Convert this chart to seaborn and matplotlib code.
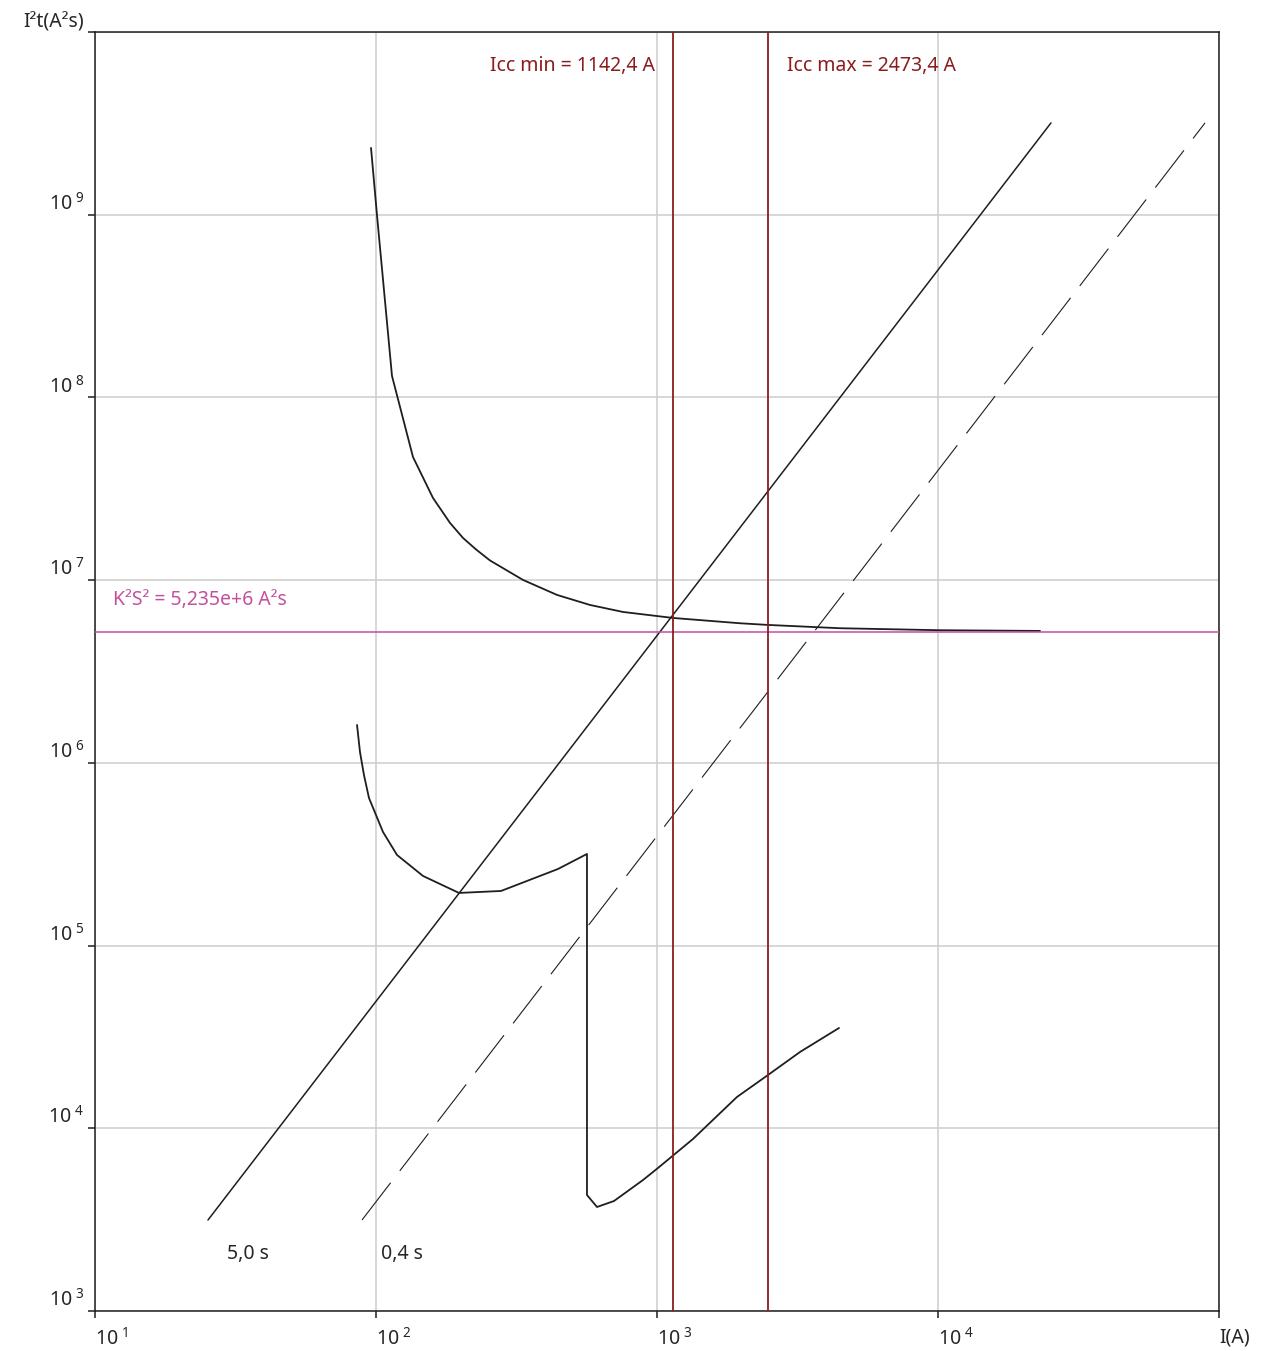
import matplotlib
matplotlib.use("Agg")
import matplotlib.pyplot as plt
import numpy as np
import pandas as pd
import seaborn as sns

# ---------------- data ----------------
# cable / device curve (upper)
upper_I = [96.0, 100.8, 114.0, 135.4, 159.5, 183.4, 204.0, 226.9, 254.4, 333.6,
           440.8, 577.4, 756.9, 1140, 1974, 2483, 4479, 10165, 23073]
upper_I2t = [2.32e9, 9.97e8, 1.311e8, 4.72e7, 2.818e7, 2.056e7, 1.702e7, 1.473e7,
             1.282e7, 1.0025e7, 8.30e6, 7.315e6, 6.697e6, 6.21e6, 5.808e6, 5.687e6,
             5.455e6, 5.320e6, 5.273e6]

# protective device let-through curve (lower)
lower_I = [85.6, 87.7, 90.6, 94.4, 105.9, 118.8, 147.0, 197.4, 278.6, 444.5,
           563.4, 563.4, 611.7, 703.2, 891.8, 1008, 1343, 1926, 2483, 3228, 4443]
lower_I2t = [1.612e6, 1.147e6, 8.585e5, 6.426e5, 4.185e5, 3.132e5, 2.404e5, 1.941e5,
             1.990e5, 2.626e5, 3.172e5, 4313, 3709, 4000, 5212, 6063, 8739, 14840,
             19570, 26160, 35390]

# I^2 t lines for 5,0 s (solid) and 0,4 s (dashed)
line5_I = [25.24, 25240]
line5_I2t = [3148, 3.18e9]
line04_I = [89.17, 89170]
line04_I2t = [3148, 3.18e9]

K2S2 = 5.235e6
Icc_min = 1142.4
Icc_max = 2473.4

x_ticks = [1e1, 1e2, 1e3, 1e4, 1e5]
x_labels = [r"$\mathregular{10^{\;1}}$", r"$\mathregular{10^{\;2}}$",
            r"$\mathregular{10^{\;3}}$", r"$\mathregular{10^{\;4}}$", "I(A)"]
y_ticks = [1e3, 1e4, 1e5, 1e6, 1e7, 1e8, 1e9, 1e10]
y_labels = [r"$\mathregular{10^{\;3}}$", r"$\mathregular{10^{\;4}}$",
            r"$\mathregular{10^{\;5}}$", r"$\mathregular{10^{\;6}}$",
            r"$\mathregular{10^{\;7}}$", r"$\mathregular{10^{\;8}}$",
            r"$\mathregular{10^{\;9}}$", "I²t(A²s)"]

label_5s = "5,0 s"
label_04s = "0,4 s"
label_k2s2 = "K²S² = 5,235e+6 A²s"
label_min = "Icc min = 1142,4 A"
label_max = "Icc max = 2473,4 A"

# ---------------- styling ----------------
sns.set_theme(style="white")
plt.rcParams["font.family"] = ["Noto Sans", "DejaVu Sans"]
plt.rcParams["mathtext.default"] = "regular"

INK = "#1e1e1e"
TXT = "#262626"
RED = "#8b1c1c"
PINK = "#c4509e"
GRID = "#cdcdcd"

W, H = 1266, 1351
fig = plt.figure(figsize=(W / 100, H / 100), dpi=100)
ax = fig.add_axes([95 / W, 1 - 1311 / H, 1124 / W, 1279 / H])
ax.set_xscale("log")
ax.set_yscale("log")
ax.set_xlim(1e1, 1e5)
ax.set_ylim(1e3, 1e10)

ax.grid(True, which="major", color=GRID, lw=1.1)
ax.set_axisbelow(True)

df_up = pd.DataFrame({"I": upper_I, "I2t": upper_I2t})
df_lo = pd.DataFrame({"I": lower_I, "I2t": lower_I2t})
df_5 = pd.DataFrame({"I": line5_I, "I2t": line5_I2t})
df_04 = pd.DataFrame({"I": line04_I, "I2t": line04_I2t})

sns.lineplot(data=df_up, x="I", y="I2t", sort=False, estimator=None, ax=ax,
             color=INK, lw=1.3)
sns.lineplot(data=df_lo, x="I", y="I2t", sort=False, estimator=None, ax=ax,
             color=INK, lw=1.3)
sns.lineplot(data=df_5, x="I", y="I2t", sort=False, estimator=None, ax=ax,
             color=INK, lw=1.1)
sns.lineplot(data=df_04, x="I", y="I2t", sort=False, estimator=None, ax=ax,
             color=INK, lw=0.8, linestyle=(0, (42.3, 13.5)))

ax.axhline(K2S2, color=PINK, lw=1.1, zorder=3)
ax.axvline(Icc_min, color=RED, lw=1.3, zorder=3)
ax.axvline(Icc_max, color=RED, lw=1.3, zorder=3)

FS = 14
ax.annotate(label_min, xy=(Icc_min, 0.9734), xycoords=("data", "axes fraction"),
            xytext=(-18, 0), textcoords="offset pixels", ha="right", va="center",
            color=RED, fontsize=FS)
ax.annotate(label_max, xy=(Icc_max, 0.9734), xycoords=("data", "axes fraction"),
            xytext=(19, 0), textcoords="offset pixels", ha="left", va="center",
            color=RED, fontsize=FS)
ax.annotate(label_k2s2, xy=(0.016, K2S2), xycoords=("axes fraction", "data"),
            xytext=(0, 32), textcoords="offset pixels", ha="left", va="center",
            color=PINK, fontsize=FS)
ax.annotate(label_5s, xy=(line5_I[0], line5_I2t[0]), xycoords="data",
            xytext=(19, -34), textcoords="offset pixels", ha="left", va="center",
            color=TXT, fontsize=FS)
ax.annotate(label_04s, xy=(line04_I[0], line04_I2t[0]), xycoords="data",
            xytext=(19, -34), textcoords="offset pixels", ha="left", va="center",
            color=TXT, fontsize=FS)

# ticks
ax.xaxis.set_minor_locator(matplotlib.ticker.NullLocator())
ax.yaxis.set_minor_locator(matplotlib.ticker.NullLocator())
ax.set_xticks(x_ticks, labels=x_labels)
ax.set_yticks(y_ticks, labels=y_labels)
ax.tick_params(axis="both", which="major", direction="out", length=5, width=1.1,
               color=INK, labelcolor=TXT, labelsize=14, bottom=True, left=True)
ax.tick_params(axis="x", pad=7)
ax.tick_params(axis="y", pad=3)
for lbl in ax.get_xticklabels():
    lbl.set_ha("left")
for lbl in ax.get_yticklabels():
    lbl.set_va("bottom")
ax.set_xlabel("")
ax.set_ylabel("")

for sp in ax.spines.values():
    sp.set_visible(True)
    sp.set_color(INK)
    sp.set_linewidth(1.1)

fig.savefig("out.png", dpi=100)
